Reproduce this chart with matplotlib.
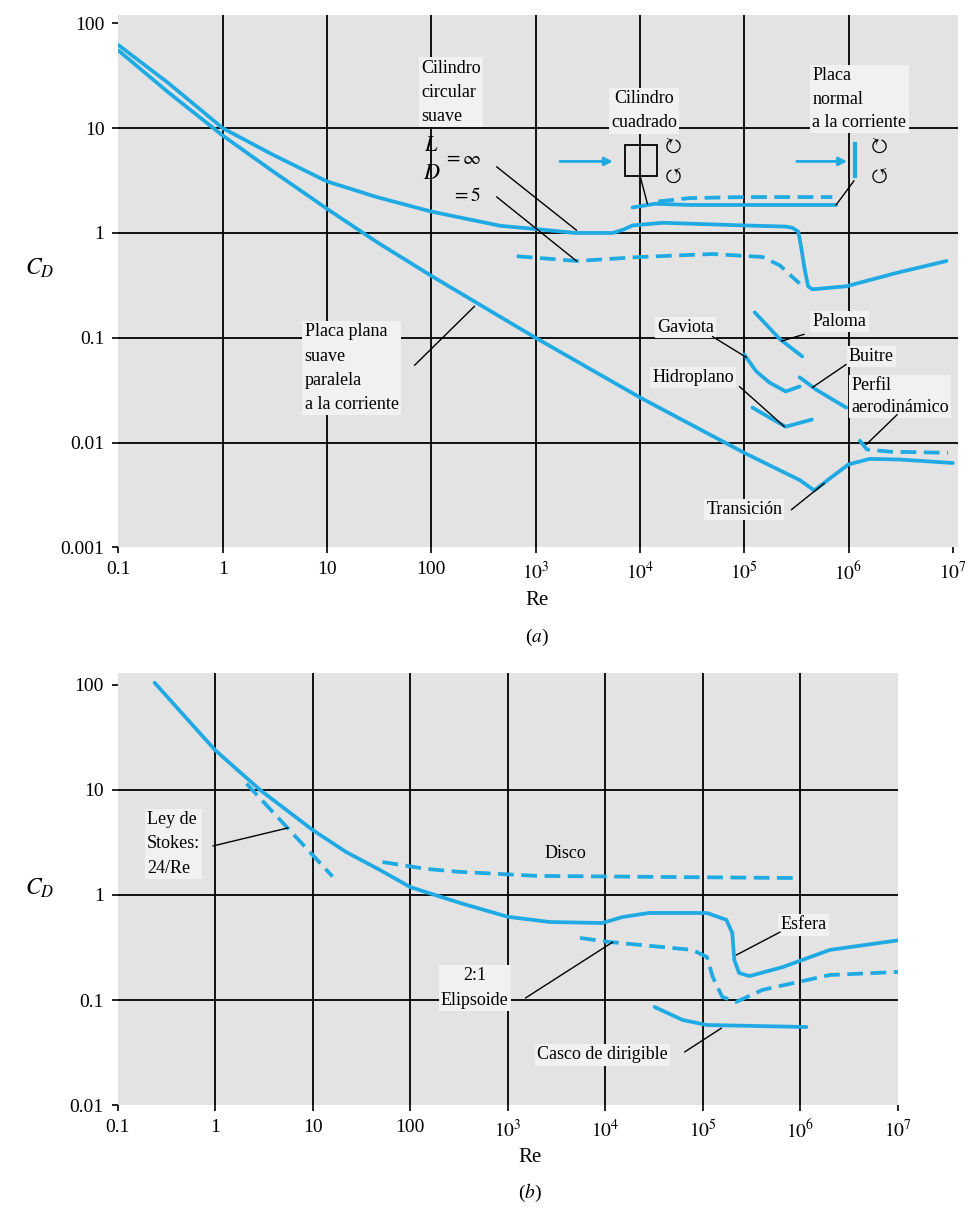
import matplotlib.pyplot as plt
from matplotlib.patches import Rectangle

plt.rcParams['font.family'] = ['Liberation Serif', 'DejaVu Serif']
plt.rcParams['mathtext.fontset'] = 'stix'

BLUE = '#1faae3'
BG = '#e3e3e3'
BOX = dict(facecolor='#f1f1f1', edgecolor='none', pad=1.5)
LW = 2.7
DASH = (4.2, 2.0)

# axis ticks shared by both panels
re_ticks = [0.1, 1, 10, 100, 1e3, 1e4, 1e5, 1e6, 1e7]
re_labels = ['0.1', '1', '10', '100', '$10^3$', '$10^4$', '$10^5$', '$10^6$', '$10^7$']
cd_ticks_a = [0.001, 0.01, 0.1, 1, 10, 100]
cd_labels_a = ['0.001', '0.01', '0.1', '1', '10', '100']
cd_ticks_b = [0.01, 0.1, 1, 10, 100]
cd_labels_b = ['0.01', '0.1', '1', '10', '100']

# (a) two-dimensional bodies
cyl_re = [0.1, 0.3, 1, 3, 10, 30, 100, 460, 1e3, 2.4e3, 5.5e3, 7e3, 8.5e3, 1.65e4,
          1e5, 2.5e5, 2.9e5, 3.3e5, 3.5e5, 3.8e5, 4.1e5, 4.5e5, 9.5e5, 3e6, 8.7e6]
cyl_cd = [62, 27, 10, 5.6, 3.1, 2.2, 1.6, 1.17, 1.09, 1.0, 1.0, 1.08, 1.18, 1.25,
          1.18, 1.15, 1.12, 1.03, 0.75, 0.45, 0.31, 0.29, 0.31, 0.42, 0.54]

cyl5_re = [660, 2.5e3, 1e4, 5e4, 1.5e5, 2.2e5, 2.9e5, 3.4e5]
cyl5_cd = [0.6, 0.54, 0.59, 0.63, 0.59, 0.49, 0.38, 0.33]

square_re = [8.5e3, 1.4e4, 3e4, 1e5, 7.6e5]
square_cd = [1.75, 1.9, 1.85, 1.85, 1.85]

normal_re = [1.5e4, 3e4, 1e5, 7e5]
normal_cd = [2.0, 2.15, 2.2, 2.2]

plate_re = [0.1, 0.3, 1, 3, 10, 30, 100, 1e3, 1e4, 1e5, 3.4e5, 4.7e5, 6.9e5,
            1e6, 1.6e6, 3.1e6, 1e7]
plate_cd = [55, 22, 8.5, 3.9, 1.7, 0.82, 0.39, 0.1, 0.027, 0.008, 0.0044, 0.0035,
            0.0047, 0.0062, 0.0070, 0.0069, 0.0064]

airfoil_re = [1.26e6, 1.5e6, 2.5e6, 9e6]
airfoil_cd = [0.0107, 0.0086, 0.0082, 0.008]

gull_re = [1.0e5, 1.3e5, 1.74e5, 2.5e5, 3.4e5]
gull_cd = [0.0695, 0.048, 0.0375, 0.0308, 0.0343]

pigeon_re = [1.26e5, 2.2e5, 3.6e5]
pigeon_cd = [0.175, 0.097, 0.0665]

vulture_re = [3.4e5, 4.9e5, 9.5e5]
vulture_cd = [0.042, 0.032, 0.0216]

hydro_re = [1.2e5, 1.74e5, 2.5e5, 4.45e5]
hydro_cd = [0.0216, 0.0174, 0.0142, 0.0166]

# (b) three-dimensional bodies
sphere_re = [0.24, 1, 2.9, 10, 22, 49, 100, 324, 1e3, 2.7e3, 9.3e3, 1.5e4, 2.8e4,
             1.1e5, 1.74e5, 2e5, 2.1e5, 2.35e5, 3e5, 6.6e5, 2e6, 1e7]
sphere_cd = [105, 24, 10, 4.16, 2.57, 1.73, 1.19, 0.84, 0.62, 0.553, 0.541, 0.617,
             0.674, 0.674, 0.58, 0.435, 0.24, 0.181, 0.169, 0.206, 0.30, 0.37]

stokes_re = [2.1, 16]
stokes_cd = [11.5, 1.5]

disk_re = [52, 148, 324, 2e3, 9e5]
disk_cd = [2.06, 1.77, 1.66, 1.52, 1.45]

ellip_re = [5.5e3, 1.1e4, 7.8e4, 1.1e5, 1.26e5, 1.58e5, 2.2e5, 4.1e5, 2e6, 1e7]
ellip_cd = [0.39, 0.357, 0.30, 0.257, 0.166, 0.107, 0.096, 0.125, 0.173, 0.185]

hull_re = [3.2e4, 6.2e4, 1.1e5, 1.15e6]
hull_cd = [0.0858, 0.0645, 0.0578, 0.0553]


def setup(ax, xmax, ylim, yticks, ylabels, vlines):
    ax.set_xscale('log')
    ax.set_yscale('log')
    ax.set_xlim(0.1, xmax)
    ax.set_ylim(*ylim)
    ax.set_facecolor(BG)
    for s in ax.spines.values():
        s.set_visible(False)
    ax.set_xticks(re_ticks)
    ax.set_xticklabels(re_labels)
    ax.set_yticks(yticks)
    ax.set_yticklabels(ylabels)
    ax.minorticks_off()
    ax.tick_params(length=4, width=1.2, labelsize=14, pad=6)
    for v in vlines:
        ax.axvline(v, color='k', lw=1.3, zorder=1)
    for v in yticks[1:-1]:
        ax.axhline(v, color='k', lw=1.3, zorder=1)


def curve(ax, x, y, dashed=False):
    ls = (0, DASH) if dashed else '-'
    ax.plot(x, y, color=BLUE, lw=LW, ls=ls, solid_capstyle='round',
            solid_joinstyle='round', zorder=3)


def label(ax, text, xy, **kw):
    kw.setdefault('ha', 'center')
    kw.setdefault('va', 'center')
    kw.setdefault('linespacing', 1.5)
    ax.text(*xy, text, fontsize=13, bbox=BOX, zorder=4, **kw)


def leader(ax, start, end):
    ax.annotate('', xy=end, xytext=start,
                arrowprops=dict(arrowstyle='-', color='k', lw=1.0,
                                shrinkA=0, shrinkB=0), zorder=5)


fig = plt.figure(figsize=(9.76, 12.07), dpi=100)
ax_a = fig.add_axes([0.1213, 0.5464, 0.8602, 0.4412])
ax_b = fig.add_axes([0.1204, 0.0845, 0.7997, 0.3579])

# ---- panel (a)
setup(ax_a, 1.12e7, (1e-3, 120), cd_ticks_a, cd_labels_a, re_ticks[1:-1])

curve(ax_a, cyl_re, cyl_cd)
curve(ax_a, cyl5_re, cyl5_cd, dashed=True)
curve(ax_a, square_re, square_cd)
curve(ax_a, normal_re, normal_cd, dashed=True)
curve(ax_a, plate_re, plate_cd)
curve(ax_a, airfoil_re, airfoil_cd, dashed=True)
for bx, by in [(gull_re, gull_cd), (pigeon_re, pigeon_cd),
               (vulture_re, vulture_cd), (hydro_re, hydro_cd)]:
    curve(ax_a, bx, by)

label(ax_a, 'Cilindro\ncircular\nsuave', (80, 45), ha='left', va='top', linespacing=1.55)
ax_a.text(101, 6.65, '$L$', fontsize=16, ha='center', va='center', zorder=5)
ax_a.text(101, 3.6, '$D$', fontsize=16, ha='center', va='center', zorder=5)
ax_a.text(200, 5.0, r'$=\infty$', fontsize=14, ha='center', va='center', zorder=5)
ax_a.text(218, 2.26, '$= 5$', fontsize=14, ha='center', va='center', zorder=5)
leader(ax_a, (423, 4.28), (2.47e3, 1.06))
leader(ax_a, (423, 2.21), (2.47e3, 0.54))

label(ax_a, 'Cilindro\ncuadrado', (1.1e4, 14.7), linespacing=1.6)
label(ax_a, 'Placa\nnormal\na la corriente', (4.5e5, 38), ha='left', va='top',
      linespacing=1.5)
leader(ax_a, (1.0e4, 3.55), (1.18e4, 1.9))
leader(ax_a, (1.13e6, 3.15), (7.6e5, 1.85))

# schematic of the square cylinder and the normal plate, with shed vortices
ax_a.add_patch(Rectangle((0.6034, 0.6977), 0.0381, 0.0582, transform=ax_a.transAxes,
                         facecolor='none', edgecolor='k', lw=1.3, zorder=4))
ax_a.plot([0.8773, 0.8773], [0.697, 0.757], transform=ax_a.transAxes,
          color=BLUE, lw=3, zorder=4)
for x0, x1 in [(0.526, 0.589), (0.808, 0.868)]:
    ax_a.annotate('', xy=(x1, 0.725), xytext=(x0, 0.725), xycoords='axes fraction',
                  arrowprops=dict(arrowstyle='-|>', color=BLUE, lw=2,
                                  mutation_scale=12, shrinkA=0, shrinkB=0))
for xc in [0.659, 0.904]:
    ax_a.text(xc, 0.754, r'$\circlearrowright$', fontsize=14, ha='center',
              va='center', transform=ax_a.transAxes, zorder=6)
    ax_a.text(xc, 0.698, r'$\circlearrowleft$', fontsize=14, ha='center',
              va='center', transform=ax_a.transAxes, zorder=6)

label(ax_a, 'Placa plana\nsuave\nparalela\na la corriente', (6.1, 0.137),
      ha='left', va='top', linespacing=1.55)
leader(ax_a, (69, 0.0546), (260, 0.2))

label(ax_a, 'Gaviota', (2.74e4, 0.126))
leader(ax_a, (4.95e4, 0.103), (1.05e5, 0.065))
label(ax_a, 'Paloma', (8.2e5, 0.144))
leader(ax_a, (3.76e5, 0.108), (2.27e5, 0.093))
label(ax_a, 'Buitre', (1.66e6, 0.0665))
leader(ax_a, (9.5e5, 0.0557), (4.5e5, 0.0336))
label(ax_a, 'Hidroplano', (3.26e4, 0.042))
leader(ax_a, (9e4, 0.0343), (2.43e5, 0.0142))
label(ax_a, 'Perfil\naerodinámico', (1.06e6, 0.0275), ha='left', linespacing=1.35)
leader(ax_a, (2.93e6, 0.0185), (1.48e6, 0.0096))
label(ax_a, 'Transición', (1.0e5, 0.00229))
leader(ax_a, (2.83e5, 0.00229), (5.87e5, 0.0041))

# ---- panel (b)
setup(ax_b, 1e7, (0.01, 130), cd_ticks_b, cd_labels_b, re_ticks[1:-1])

curve(ax_b, sphere_re, sphere_cd)
curve(ax_b, stokes_re, stokes_cd, dashed=True)
curve(ax_b, disk_re, disk_cd, dashed=True)
curve(ax_b, ellip_re, ellip_cd, dashed=True)
curve(ax_b, hull_re, hull_cd)

label(ax_b, 'Ley de\nStokes:\n24/Re', (0.2, 3.06), ha='left', linespacing=1.55)
leader(ax_b, (0.95, 2.93), (5.57, 4.35))
ax_b.text(3.9e3, 2.51, 'Disco', fontsize=13, ha='center', va='center')
label(ax_b, 'Esfera', (1.07e6, 0.518))
leader(ax_b, (6.2e5, 0.444), (2.2e5, 0.268))
label(ax_b, '2:1\nElipsoide', (457, 0.13), linespacing=1.6)
leader(ax_b, (1.52e3, 0.1045), (1.19e4, 0.356))
label(ax_b, 'Casco de dirigible', (9.4e3, 0.03))
leader(ax_b, (6.5e4, 0.032), (1.55e5, 0.054))

# ---- axis titles
W, H = 976, 1207
for px, py, txt, size in [(537, 600, 'Re', 15), (537, 637, '($a$)', 14),
                          (530, 1157, 'Re', 15), (530, 1193, '($b$)', 14),
                          (40, 268, '$C_D$', 17), (40, 888, '$C_D$', 17)]:
    fig.text(px / W, 1 - py / H, txt, fontsize=size, ha='center', va='center')

fig.savefig('out.png', dpi=100)
